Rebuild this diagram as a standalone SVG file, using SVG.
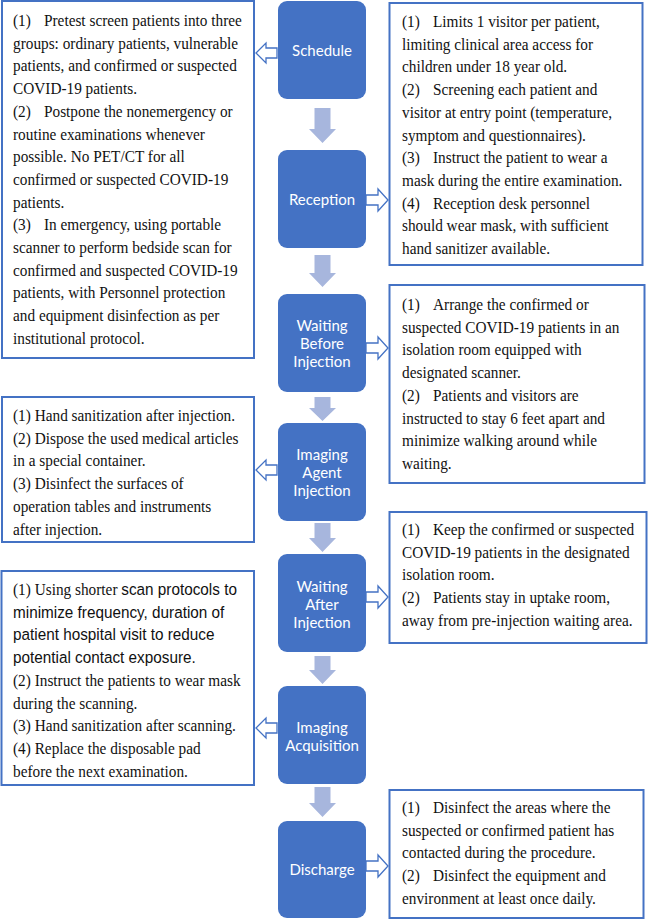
<svg xmlns="http://www.w3.org/2000/svg" width="649" height="921" viewBox="0 0 649 921">
<style>
.bg{fill:#ffffff}
.box{fill:#ffffff;stroke:#4472C4;stroke-width:2}
.node{fill:#4472C4}
.nl{font-family:Lato,"Open Sans","Liberation Sans",sans-serif;font-size:15px;fill:#ffffff;text-anchor:middle}
.t{font-family:"Liberation Serif","Times New Roman",serif;font-size:15.3px;fill:#111111}
.a{font-family:"Liberation Sans",Arial,sans-serif}
.down{fill:#A7B6DD}
.side{fill:#ffffff;stroke:#4472C4;stroke-width:1.3;stroke-linejoin:miter}
</style>
<defs>
<path id="ra" d="M0,-5 H12 V-11 L22,0 L12,11 V5 H0 Z"/>
<path id="la" d="M21,-5 H10 V-10 L0,0 L10,10 V5 H21 Z"/>
</defs>
<rect class="bg" x="0" y="0" width="649" height="921"/>

<g id="connectors">
<path class="down" d="M314.5,108 H330.5 V129 H336 L322.5,143 L309,129 H314.5 Z"/>
<path class="down" d="M314.5,255 H330.5 V273 H336 L322.5,287 L309,273 H314.5 Z"/>
<path class="down" d="M314.5,397 H330.5 V408 H336 L322.5,421 L309,408 H314.5 Z"/>
<path class="down" d="M314.5,523 H330.5 V538 H336 L322.5,552 L309,538 H314.5 Z"/>
<path class="down" d="M314.5,656 H330.5 V670 H336 L322.5,684 L309,670 H314.5 Z"/>
<path class="down" d="M314.5,787 H330.5 V803 H336 L322.5,817 L309,803 H314.5 Z"/>
<use href="#la" class="side" transform="translate(256,53)"/>
<use href="#ra" class="side" transform="translate(366,200)"/>
<use href="#ra" class="side" transform="translate(366,348)"/>
<use href="#la" class="side" transform="translate(256,470)"/>
<use href="#ra" class="side" transform="translate(366,597)"/>
<use href="#la" class="side" transform="translate(256,728)"/>
<use href="#ra" class="side" transform="translate(366,866)"/>
</g>

<g id="n-schedule">
<rect class="node" x="278" y="1" width="88" height="98" rx="9"/>
<text class="nl" x="322" y="55.5">Schedule</text>
</g>
<g id="n-reception">
<rect class="node" x="278" y="150" width="88" height="98" rx="9"/>
<text class="nl" x="322" y="204.5">Reception</text>
</g>
<g id="n-waiting-before">
<rect class="node" x="278" y="294" width="88" height="98" rx="9"/>
<text class="nl" x="322" y="330.5"><tspan x="322" dy="0">Waiting</tspan><tspan x="322" dy="18">Before</tspan><tspan x="322" dy="18">Injection</tspan></text>
</g>
<g id="n-agent-injection">
<rect class="node" x="278" y="423" width="88" height="98" rx="9"/>
<text class="nl" x="322" y="460"><tspan x="322" dy="0">Imaging</tspan><tspan x="322" dy="18">Agent</tspan><tspan x="322" dy="18">Injection</tspan></text>
</g>
<g id="n-waiting-after">
<rect class="node" x="278" y="554" width="88" height="98" rx="9"/>
<text class="nl" x="322" y="591.5"><tspan x="322" dy="0">Waiting</tspan><tspan x="322" dy="18">After</tspan><tspan x="322" dy="18">Injection</tspan></text>
</g>
<g id="n-acquisition">
<rect class="node" x="278" y="686" width="88" height="98" rx="9"/>
<text class="nl" x="322" y="732.5"><tspan x="322" dy="0">Imaging</tspan><tspan x="322" dy="18">Acquisition</tspan></text>
</g>
<g id="n-discharge">
<rect class="node" x="278" y="821" width="88" height="97" rx="9"/>
<text class="nl" x="322" y="875">Discharge</text>
</g>

<g id="box-schedule">
<rect class="box" x="2" y="1" width="252" height="357"/>
<text class="t" transform="translate(13,26) scale(1,1.12)"><tspan x="0" dy="0">(1)</tspan><tspan x="31">Pretest screen patients into three</tspan><tspan x="0" dy="20.27">groups: ordinary patients, vulnerable</tspan><tspan x="0" dy="20.27">patients, and confirmed or suspected</tspan><tspan x="0" dy="20.27">COVID-19 patients.</tspan><tspan x="0" dy="20.27">(2)</tspan><tspan x="31">Postpone the nonemergency or</tspan><tspan x="0" dy="20.27">routine examinations whenever</tspan><tspan x="0" dy="20.27">possible. No PET/CT for all</tspan><tspan x="0" dy="20.27">confirmed or suspected COVID-19</tspan><tspan x="0" dy="20.27">patients.</tspan><tspan x="0" dy="20.27">(3)</tspan><tspan x="31">In emergency, using portable</tspan><tspan x="0" dy="20.27">scanner to perform bedside scan for</tspan><tspan x="0" dy="20.27">confirmed and suspected COVID-19</tspan><tspan x="0" dy="20.27">patients, with Personnel protection</tspan><tspan x="0" dy="20.27">and equipment disinfection as per</tspan><tspan x="0" dy="20.27">institutional protocol.</tspan></text>
</g>

<g id="box-reception">
<rect class="box" x="389.5" y="3" width="253" height="262"/>
<text class="t" transform="translate(402,27) scale(1,1.12)"><tspan x="0" dy="0">(1)</tspan><tspan x="31">Limits 1 visitor per patient,</tspan><tspan x="0" dy="20.27">limiting clinical area access for</tspan><tspan x="0" dy="20.27">children under 18 year old.</tspan><tspan x="0" dy="20.27">(2)</tspan><tspan x="31">Screening each patient and</tspan><tspan x="0" dy="20.27">visitor at entry point (temperature,</tspan><tspan x="0" dy="20.27">symptom and questionnaires).</tspan><tspan x="0" dy="20.27">(3)</tspan><tspan x="31">Instruct the patient to wear a</tspan><tspan x="0" dy="20.27">mask during the entire examination.</tspan><tspan x="0" dy="20.27">(4)</tspan><tspan x="31">Reception desk personnel</tspan><tspan x="0" dy="20.27">should wear mask, with sufficient</tspan><tspan x="0" dy="20.27">hand sanitizer available.</tspan></text>
</g>

<g id="box-waiting-before">
<rect class="box" x="389.5" y="285" width="255" height="198"/>
<text class="t" transform="translate(402,310) scale(1,1.12)"><tspan x="0" dy="0">(1)</tspan><tspan x="31">Arrange the confirmed or</tspan><tspan x="0" dy="20.27">suspected COVID-19 patients in an</tspan><tspan x="0" dy="20.27">isolation room equipped with</tspan><tspan x="0" dy="20.27">designated scanner.</tspan><tspan x="0" dy="20.27">(2)</tspan><tspan x="31">Patients and visitors are</tspan><tspan x="0" dy="20.27">instructed to stay 6 feet apart and</tspan><tspan x="0" dy="20.27">minimize walking around while</tspan><tspan x="0" dy="20.27">waiting.</tspan></text>
</g>

<g id="box-agent-injection">
<rect class="box" x="2" y="397" width="252" height="145"/>
<text class="t" transform="translate(13,421) scale(1,1.12)"><tspan x="0" dy="0">(1) Hand sanitization after injection.</tspan><tspan x="0" dy="20.27">(2) Dispose the used medical articles</tspan><tspan x="0" dy="20.27">in a special container.</tspan><tspan x="0" dy="20.27">(3) Disinfect the surfaces of</tspan><tspan x="0" dy="20.27">operation tables and instruments</tspan><tspan x="0" dy="20.27">after injection.</tspan></text>
</g>

<g id="box-waiting-after">
<rect class="box" x="389.5" y="512" width="257" height="131"/>
<text class="t" transform="translate(402,535) scale(1,1.12)"><tspan x="0" dy="0">(1)</tspan><tspan x="31">Keep the confirmed or suspected</tspan><tspan x="0" dy="20.27">COVID-19 patients in the designated</tspan><tspan x="0" dy="20.27">isolation room.</tspan><tspan x="0" dy="20.27">(2)</tspan><tspan x="31">Patients stay in uptake room,</tspan><tspan x="0" dy="20.27">away from pre-injection waiting area.</tspan></text>
</g>

<g id="box-acquisition">
<rect class="box" x="1.5" y="571" width="252.5" height="214"/>
<text class="t" transform="translate(13,595) scale(1,1.12)"><tspan x="0" dy="0">(1) Using shorter </tspan><tspan class="a">scan protocols to</tspan><tspan class="a" x="0" dy="20.27">minimize frequency, duration of</tspan><tspan class="a" x="0" dy="20.27">patient hospital visit to reduce</tspan><tspan class="a" x="0" dy="20.27">potential contact exposure.</tspan><tspan x="0" dy="20.27">(2) Instruct the patients to wear mask</tspan><tspan x="0" dy="20.27">during the scanning.</tspan><tspan x="0" dy="20.27">(3) Hand sanitization after scanning.</tspan><tspan x="0" dy="20.27">(4) Replace the disposable pad</tspan><tspan x="0" dy="20.27">before the next examination.</tspan></text>
</g>

<g id="box-discharge">
<rect class="box" x="389.5" y="790" width="254" height="128"/>
<text class="t" transform="translate(402,813) scale(1,1.12)"><tspan x="0" dy="0">(1)</tspan><tspan x="31">Disinfect the areas where the</tspan><tspan x="0" dy="20.27">suspected or confirmed patient has</tspan><tspan x="0" dy="20.27">contacted during the procedure.</tspan><tspan x="0" dy="20.27">(2)</tspan><tspan x="31">Disinfect the equipment and</tspan><tspan x="0" dy="20.27">environment at least once daily.</tspan></text>
</g>
</svg>
